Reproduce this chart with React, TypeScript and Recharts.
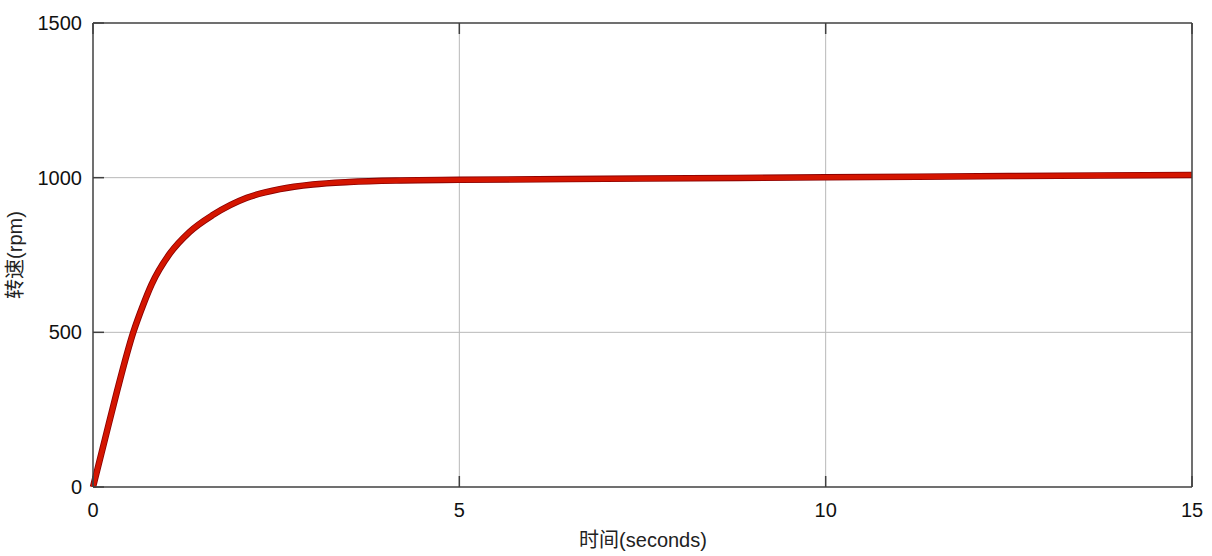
import React from 'react';
import { LineChart, Line, XAxis, YAxis, CartesianGrid, Label } from 'recharts';

const times = [0, 0.164, 0.323, 0.55, 0.687, 0.8, 1.05, 1.32, 1.64, 2.1, 2.55, 3.0, 3.5, 4.2, 5, 7.5, 10, 12.5, 15];
const speeds = [0, 155, 305, 500, 590, 655, 755, 825, 880, 935, 963, 978, 986, 991, 993, 997, 1001, 1005, 1009];
const xTicks = [0, 5, 10, 15];
const yTicks = [0, 500, 1000, 1500];
const xTitle = '时间(seconds)';
const yTitle = '转速(rpm)';

const data = times.map((t, i) => ({ t, v: speeds[i] }));

const FONT = '"Liberation Sans", Arial, "Noto Sans CJK SC", sans-serif';
const AXIS = '#404040';
const TICK = 11;

const BottomTick = (p: any) => (
  <g>
    <line x1={p.x} x2={p.x} y1={p.y} y2={p.y - TICK} stroke={AXIS} strokeWidth={1.5} />
    <text x={p.x} y={p.y + 30} textAnchor="middle" fill="#111" fontSize={20} fontFamily={FONT}>{p.payload.value}</text>
  </g>
);
const LeftTick = (p: any) => (
  <g>
    <line x1={p.x} x2={p.x + TICK} y1={p.y} y2={p.y} stroke={AXIS} strokeWidth={1.5} />
    <text x={p.x - 11} y={p.y + 7} textAnchor="end" fill="#111" fontSize={20} fontFamily={FONT}>{p.payload.value}</text>
  </g>
);
const TopTick = (p: any) => (
  <line x1={p.x} x2={p.x} y1={p.y} y2={p.y + TICK} stroke={AXIS} strokeWidth={1.5} />
);
const RightTick = (p: any) => (
  <line x1={p.x} x2={p.x - TICK} y1={p.y} y2={p.y} stroke={AXIS} strokeWidth={1.5} />
);

export default function App() {
  return (
    <div style={{ position: 'absolute', left: 0, top: 0, width: 1212, height: 556, background: '#fff' }}>
      <LineChart width={1212} height={556} data={data} margin={{ top: 22, right: 19, left: 0, bottom: 0 }}
        style={{ fontFamily: FONT }}>
        <CartesianGrid stroke="#b8b8b8" strokeWidth={1} vertical horizontal
          verticalValues={[5, 10]} horizontalValues={[500, 1000]} />
        <XAxis dataKey="t" type="number" domain={[0, 15]} ticks={xTicks} height={69} interval={0}
          stroke={AXIS} strokeWidth={1.5} tickLine={false} tickSize={0} tickMargin={0} tick={<BottomTick />}>
          <Label content={() => (
            <text x={643} y={547} textAnchor="middle" fill="#222" fontSize={20} fontFamily={FONT}>{xTitle}</text>
          )} />
        </XAxis>
        <XAxis xAxisId="top" orientation="top" dataKey="t" type="number" domain={[0, 15]} ticks={xTicks} height={1}
          interval={0} stroke={AXIS} strokeWidth={1.5} tickLine={false} tickSize={0} tickMargin={0} tick={<TopTick />} />
        <YAxis type="number" domain={[0, 1500]} ticks={yTicks} width={93} interval={0}
          stroke={AXIS} strokeWidth={1.5} tickLine={false} tickSize={0} tickMargin={0} tick={<LeftTick />}>
          <Label content={() => (
            <text x={22} y={255} textAnchor="middle" fill="#222" fontSize={20} fontFamily={FONT}
              transform="rotate(-90 22 255)">{yTitle}</text>
          )} />
        </YAxis>
        <YAxis yAxisId="right" orientation="right" type="number" domain={[0, 1500]} ticks={yTicks} width={1}
          interval={0} stroke={AXIS} strokeWidth={1.5} tickLine={false} tickSize={0} tickMargin={0} tick={<RightTick />} />
        <Line type="monotone" dataKey="v" stroke="#8a0000" strokeWidth={6.5} dot={false} isAnimationActive={false} />
        <Line type="monotone" dataKey="v" stroke="#d41500" strokeWidth={4.8} dot={false} isAnimationActive={false} />
      </LineChart>
    </div>
  );
}
